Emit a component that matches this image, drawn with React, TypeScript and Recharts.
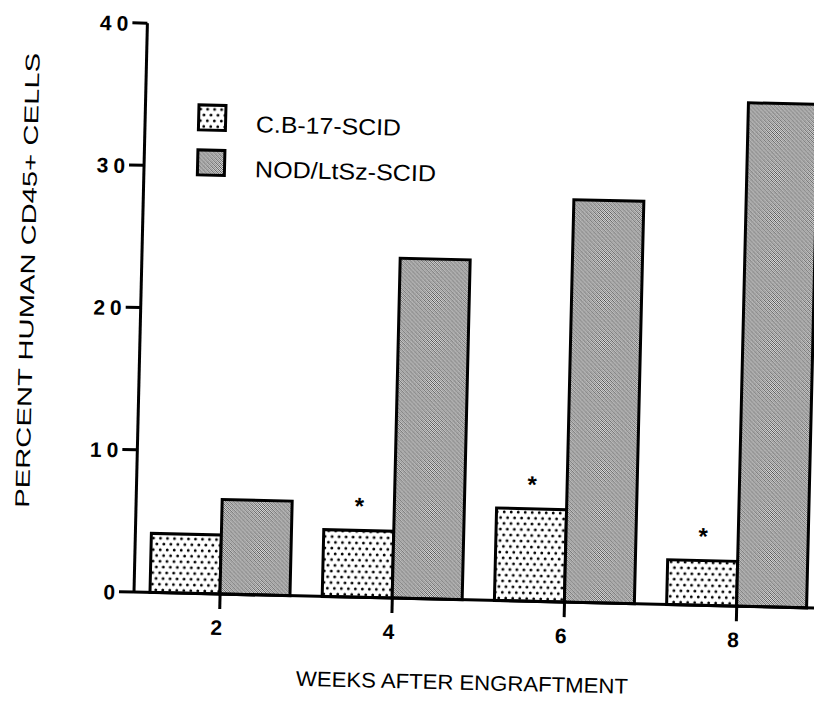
import { Bar, BarChart, Label, LabelList, Legend, XAxis, YAxis } from 'recharts'

const weeks = ['2', '4', '6', '8']
const cb17Values = [4.15, 4.7, 6.5, 3.15] // C.B-17-SCID
const nodValues = [6.65, 23.9, 28.3, 35.4] // NOD/LtSz-SCID
const significance = ['', '*', '*', '*']
const yTicks = [0, 10, 20, 30, 40]

const FONT = '"Liberation Sans", Arial, Helvetica, sans-serif'

const data = weeks.map((w, i) => ({
  week: w,
  cb17: cb17Values[i],
  nod: nodValues[i],
  sig: significance[i],
}))

// fill patterns, the scan uses a dotted screen and a fine grey stipple
function Patterns({ prefix }: { prefix: string }) {
  return (
    <defs>
      <pattern id={`${prefix}dots`} patternUnits="userSpaceOnUse" width={7} height={11.5}>
        <rect width={7} height={11.5} fill="#fff" />
        <circle cx={1.75} cy={2.9} r={1.45} fill="#000" />
        <circle cx={5.25} cy={8.65} r={1.45} fill="#000" />
      </pattern>
      <pattern id={`${prefix}stipple`} patternUnits="userSpaceOnUse" width={4} height={4}>
        <rect width={4} height={4} fill="#dedede" />
        <rect x={0} y={0} width={1} height={1} fill="#555" />
        <rect x={2} y={0} width={1} height={1} fill="#777" />
        <rect x={1} y={1} width={1} height={1} fill="#4a4a4a" />
        <rect x={3} y={1} width={1} height={1} fill="#888" />
        <rect x={0} y={2} width={1} height={1} fill="#777" />
        <rect x={2} y={2} width={1} height={1} fill="#4a4a4a" />
        <rect x={1} y={3} width={1} height={1} fill="#888" />
        <rect x={3} y={3} width={1} height={1} fill="#555" />
      </pattern>
    </defs>
  )
}

function YTick(props: any) {
  const { x, y, payload } = props
  return (
    <text x={x + 1} y={y + 8} textAnchor="end" fontFamily={FONT} fontWeight="bold" fontSize={21} letterSpacing={5} fill="#000">
      {payload.value}
    </text>
  )
}

function XTick(props: any) {
  const { x, y, payload } = props
  return (
    <text x={x - 3} y={y + 26} textAnchor="middle" fontFamily={FONT} fontWeight="bold" fontSize={21} fill="#000">
      {payload.value}
    </text>
  )
}

function Star(props: any) {
  const { x, y, width, value } = props
  if (!value) return null
  return (
    <text x={x + width / 2} y={y - 16} textAnchor="middle" fontFamily={FONT} fontWeight="bold" fontSize={24} fill="#000">
      {value}
    </text>
  )
}

function LegendBox() {
  return (
    <svg width={300} height={85} style={{ display: 'block' }}>
      <Patterns prefix="lg-" />
      <rect x={3.5} y={4.5} width={27} height={25} fill="url(#lg-dots)" stroke="#000" strokeWidth={3} />
      <text x={61} y={30.5} fontFamily={FONT} fontSize={23} textLength={145} lengthAdjust="spacingAndGlyphs" fill="#000">
        C.B-17-SCID
      </text>
      <rect x={3.5} y={49.5} width={27} height={25} fill="url(#lg-stipple)" stroke="#000" strokeWidth={3} />
      <text x={61} y={75.5} fontFamily={FONT} fontSize={23} textLength={181} lengthAdjust="spacingAndGlyphs" fill="#000">
        NOD/LtSz-SCID
      </text>
    </svg>
  )
}

export default function App() {
  return (
    <div style={{ position: 'absolute', left: 0, top: 0, width: 814, height: 708, overflow: 'hidden', background: '#fff' }}>
      {/* the original is a slightly tilted scan */}
      <div style={{ transform: 'rotate(1.35deg)', transformOrigin: '134px 592px', width: 840, height: 708 }}>
        <BarChart
          width={840}
          height={708}
          data={data}
          barSize={70}
          barGap={0}
          margin={{ top: 23, right: 17, bottom: 56, left: 0 }}
        >
          <Patterns prefix="" />
          <XAxis
            dataKey="week"
            interval={0}
            height={60}
            tickSize={15}
            tickMargin={0}
            tick={<XTick />}
            axisLine={{ stroke: '#000', strokeWidth: 3 }}
            tickLine={{ stroke: '#000', strokeWidth: 3 }}
          >
            <Label
              content={() => (
                <text x={464} y={682} textAnchor="middle" fontFamily={FONT} fontSize={21} textLength={332} lengthAdjust="spacingAndGlyphs" fill="#000">
                  WEEKS AFTER ENGRAFTMENT
                </text>
              )}
            />
          </XAxis>
          <YAxis
            width={134}
            domain={[0, 40]}
            ticks={yTicks}
            interval={0}
            tickSize={15}
            tickMargin={0}
            tick={<YTick />}
            axisLine={{ stroke: '#000', strokeWidth: 3 }}
            tickLine={{ stroke: '#000', strokeWidth: 3 }}
          >
            <Label
              content={() => (
                <text
                  x={27}
                  y={283}
                  transform="rotate(-90, 27, 283)"
                  textAnchor="middle"
                  fontFamily={FONT}
                  fontSize={20}
                  textLength={455}
                  lengthAdjust="spacingAndGlyphs"
                  fill="#000"
                >
                  PERCENT HUMAN CD45+ CELLS
                </text>
              )}
            />
          </YAxis>
          <Legend
            layout="vertical"
            align="center"
            verticalAlign="middle"
            wrapperStyle={{ left: 184, top: 99, width: 300, height: 85 }}
            content={() => <LegendBox />}
          />
          <Bar dataKey="cb17" name="C.B-17-SCID" fill="url(#dots)" stroke="#000" strokeWidth={3} isAnimationActive={false}>
            <LabelList dataKey="sig" content={<Star />} />
          </Bar>
          <Bar dataKey="nod" name="NOD/LtSz-SCID" fill="url(#stipple)" stroke="#000" strokeWidth={3} isAnimationActive={false} />
        </BarChart>
      </div>
    </div>
  )
}
